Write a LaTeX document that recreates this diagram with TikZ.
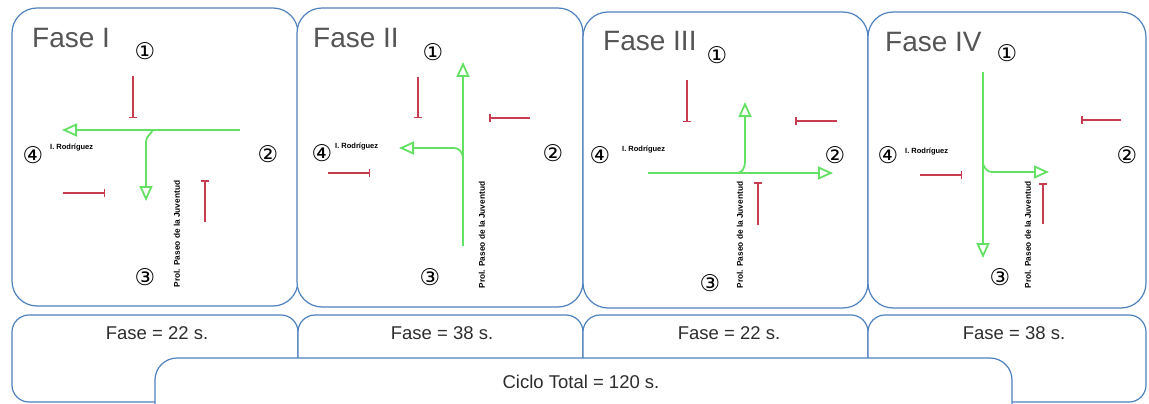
\documentclass[tikz,border=0pt]{standalone}
\usepackage{fontspec}
\setmainfont{Liberation Sans}
\newfontfamily\symfont{DejaVu Sans}
\usetikzlibrary{arrows.meta}
\definecolor{framec}{RGB}{79,129,189}
\definecolor{grn}{RGB}{100,225,100}
\definecolor{redc}{RGB}{200,60,80}
\definecolor{txtc}{RGB}{45,45,45}
\definecolor{ttlc}{RGB}{85,85,85}
\tikzset{
  panel/.style={draw=framec,line width=1.2pt,rounded corners=25pt,fill=white},
  lowbox/.style={draw=framec,line width=1.2pt,rounded corners=17pt,fill=white},
  cyclebox/.style={draw=framec,line width=1.2pt,rounded corners=22pt,fill=white},
  garrow/.style={draw=grn,line width=1.8pt,-{Triangle[open,length=15pt,width=13pt]}},
  rbar/.style={draw=redc,line width=1.5pt,-{Bar[width=8pt]}},
  num/.style={font=\symfont\fontsize{23}{23}\selectfont,text=black,inner sep=0pt},
  street/.style={font=\bfseries\fontsize{7.5}{8}\selectfont,text=black,inner sep=0pt,anchor=west},
  avenue/.style={font=\bfseries\fontsize{8.3}{8}\selectfont,text=black,inner sep=0pt,rotate=90},
  phase/.style={font=\fontsize{28}{30}\selectfont,text=ttlc,inner sep=0pt,anchor=base west},
  dur/.style={font=\fontsize{18.5}{20}\selectfont,text=txtc,inner sep=0pt}
}
\begin{document}
\begin{tikzpicture}[x=1pt,y=-1pt]
\useasboundingbox (0,0) rectangle (1149,404);
\clip (0,0) rectangle (1149,404);
\fill[white] (0,0) rectangle (1149,404);
% top panels
\draw[panel] (12,8) rectangle (298,306);
\draw[panel] (297,8) rectangle (583,307);
\draw[panel] (583,12) rectangle (868,308);
\draw[panel] (868,12) rectangle (1146,308);
% bottom boxes
\draw[lowbox] (12,315) rectangle (298,402);
\draw[lowbox] (298,315) rectangle (583,402);
\draw[lowbox] (583,315) rectangle (868,402);
\draw[lowbox] (868,315) rectangle (1146,402);
\draw[cyclebox] (155,358) rectangle (1012,440);
\node[dur] (d1) at (157,333) {Fase = 22 s.};
\node[dur] (d2) at (442,333) {Fase = 38 s.};
\node[dur] (d3) at (729,333) {Fase = 22 s.};
\node[dur] (d4) at (1014,333) {Fase = 38 s.};
\node[dur] (ct) at (581,382) {Ciclo Total = 120 s.};
% ---------- Fase I ----------
\node[phase] (t1) at (32,48) {Fase I};
\node[num] (a1) at (145,51) {①};
\node[num] (b1) at (268,154) {②};
\node[num] (c1) at (145,277) {③};
\node[num] (e1) at (33,155) {④};
\node[street] (s1) at (50,148) {I. Rodríguez};
\node[avenue] (v1) at (177,234) {Prol. Paseo de la Juventud};
\draw[garrow] (240,130) -- (62,130);
\draw[garrow] (153,130) to[out=-120,in=90] (146,142) -- (146,201);
\draw[rbar] (133,76) -- (133,118);
\draw[rbar] (63,193) -- (105,193);
\draw[rbar] (205,222) -- (205,180);
% ---------- Fase II ----------
\node[phase] (t2) at (313,48) {Fase II};
\node[num] (a2) at (433,52) {①};
\node[num] (b2) at (553,153) {②};
\node[num] (c2) at (430,277) {③};
\node[num] (e2) at (322,153) {④};
\node[street] (s2) at (335,147) {I. Rodríguez};
\node[avenue] (v2) at (482,235) {Prol. Paseo de la Juventud};
\draw[garrow] (463,246) -- (463,62);
\draw[garrow] (463,157) to[out=100,in=0] (454,148) -- (399,148);
\draw[rbar] (418,77) -- (418,118);
\draw[rbar] (530,118) -- (489,118);
\draw[rbar] (328,173) -- (370,173);
% ---------- Fase III ----------
\node[phase] (t3) at (603,51) {Fase III};
\node[num] (a3) at (717,55) {①};
\node[num] (b3) at (835,155) {②};
\node[num] (c3) at (710,283) {③};
\node[num] (e3) at (600,155) {④};
\node[street] (s3) at (622,150) {I. Rodríguez};
\node[avenue] (v3) at (740,235) {Prol. Paseo de la Juventud};
\draw[garrow] (648,173) -- (833,173);
\draw[garrow] (737,173) to[out=0,in=-90] (745,162) -- (745,102);
\draw[rbar] (687,80) -- (687,122);
\draw[rbar] (837,121) -- (795,121);
\draw[rbar] (758,225) -- (758,182);
% ---------- Fase IV ----------
\node[phase] (t4) at (885,52) {Fase IV};
\node[num] (a4) at (1007,53) {①};
\node[num] (b4) at (1127,155) {②};
\node[num] (c4) at (1000,277) {③};
\node[num] (e4) at (888,155) {④};
\node[street] (s4) at (905,152) {I. Rodríguez};
\node[avenue] (v4) at (1028,235) {Prol. Paseo de la Juventud};
\draw[garrow] (983,72) -- (983,258);
\draw[garrow] (983,164) to[out=-70,in=180] (992,172) -- (1049,172);
\draw[rbar] (1121,120) -- (1081,120);
\draw[rbar] (920,175) -- (962,175);
\draw[rbar] (1043,224) -- (1043,183);
\end{tikzpicture}
\end{document}
